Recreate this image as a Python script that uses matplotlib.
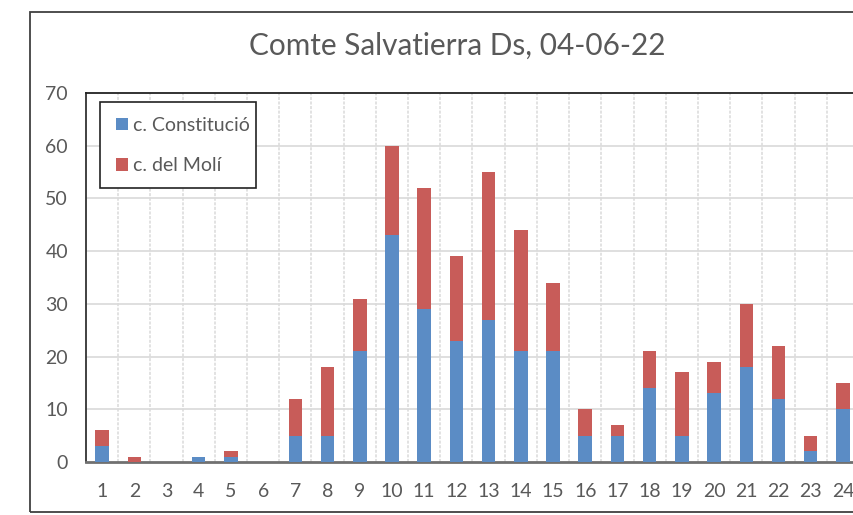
import matplotlib
matplotlib.use("Agg")
import matplotlib.pyplot as plt
from matplotlib.patches import Rectangle

# Hourly counts for the two streets
hours = list(range(1, 25))
constitucio = [3, 0, 0, 1, 1, 0, 5, 5, 21, 43, 29, 23, 27, 21, 21, 5, 5, 14, 5, 13, 18, 12, 2, 10]
moli = [3, 1, 0, 0, 1, 0, 7, 13, 10, 17, 23, 16, 28, 23, 13, 5, 2, 7, 12, 6, 12, 10, 3, 5]
y_ticks = [0, 10, 20, 30, 40, 50, 60, 70]
title = "Comte Salvatierra Ds, 04-06-22"
labels = ["c. Constitució", "c. del Molí"]

blue = "#5B8CC5"
red = "#C85C59"
text_gray = "#595959"

plt.rcParams["font.family"] = ["Lato", "DejaVu Sans"]

W, H = 854, 515
fig = plt.figure(figsize=(W / 100, H / 100), dpi=100)

# Outer chart frame (extends past the right edge)
fig.patches.append(Rectangle((30 / W, 3 / H), 900 / W, (512 - 12) / H,
                             transform=fig.transFigure, fill=False,
                             edgecolor="#404040", linewidth=1.3))

left, right, top, bottom = 86, 859, 93, 462
ax = fig.add_axes([left / W, (H - bottom) / H, (right - left) / W, (bottom - top) / H])

ax.bar(hours, constitucio, width=0.42, color=blue, label=labels[0], zorder=3)
ax.bar(hours, moli, width=0.42, bottom=constitucio, color=red, label=labels[1], zorder=3)

ax.set_xlim(0.5, 24.5)
ax.set_ylim(0, 70)
ax.set_yticks(y_ticks)
ax.set_xticks(hours)
ax.set_xticklabels([str(h) for h in hours])

# Horizontal grid at every y tick, vertical grid between categories
for y in y_ticks[1:-1]:
    ax.axhline(y, color="#D9D9D9", linewidth=1.2, zorder=1)
for b in range(1, 24):
    ax.axvline(b + 0.5, color="#DADADA", linewidth=1.1, linestyle=(0, (2, 1)), zorder=1)

ax.tick_params(axis="both", length=0, labelsize=14, colors=text_gray)
ax.tick_params(axis="x", pad=15)
ax.tick_params(axis="y", pad=13)

ax.spines["top"].set_color("#222222")
ax.spines["top"].set_linewidth(1.3)
ax.spines["left"].set_color("#333333")
ax.spines["left"].set_linewidth(1.3)
ax.spines["right"].set_visible(False)
ax.spines["bottom"].set_color("#707070")
ax.spines["bottom"].set_linewidth(2)

fig.text(457 / W, 1 - 46 / H, title, ha="center", va="center",
         fontsize=21.4, color=text_gray)

# Legend box drawn separately so its padding is asymmetric
lx0, lx1, ly0, ly1 = 100, 256, 102, 188
ax.add_patch(Rectangle((lx0 / W, 1 - ly1 / H), (lx1 - lx0) / W, (ly1 - ly0) / H,
                       transform=fig.transFigure, facecolor="white",
                       edgecolor="#222222", linewidth=1.2, zorder=5, clip_on=False))
leg = ax.legend(loc="upper left", bbox_to_anchor=(116 / W, 1 - 117 / H),
                bbox_transform=fig.transFigure,
                frameon=False, fontsize=14, labelcolor=text_gray,
                handlelength=0.6, handleheight=0.6, handletextpad=0.25,
                labelspacing=1.2, borderpad=0, borderaxespad=0)
leg.set_zorder(6)

fig.savefig("out.png", dpi=100)
